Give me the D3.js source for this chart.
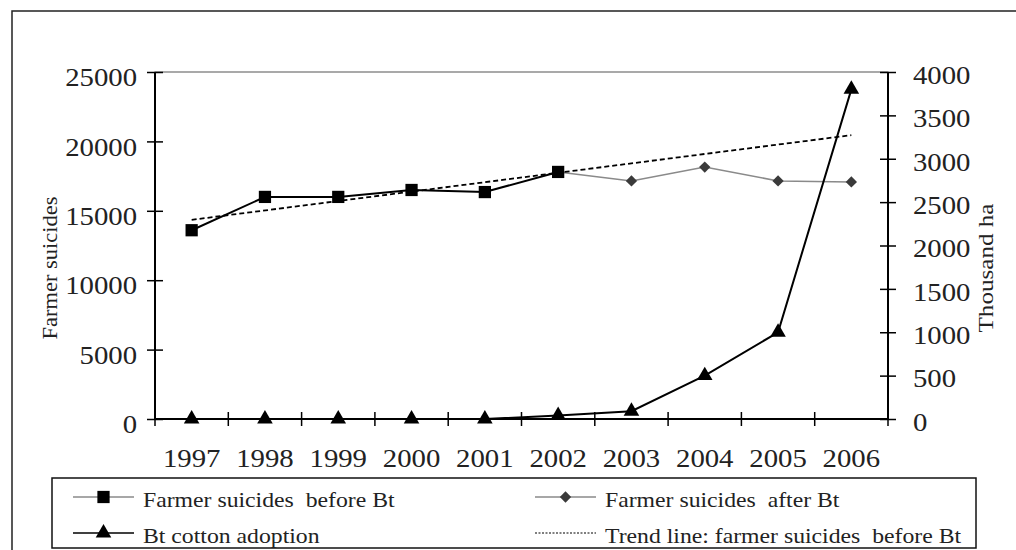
<!DOCTYPE html>
<html>
<head>
<meta charset="utf-8">
<script src="https://cdn.jsdelivr.net/npm/d3@7"></script>
<style>
  body { margin: 0; background: #fff; }
  svg { display: block; }
  text { font-family: "Liberation Serif", "Times New Roman", serif; fill: #222; }
</style>
</head>
<body>
<svg id="chart" width="1016" height="550"></svg>
<script>
// values
const years = ["1997", "1998", "1999", "2000", "2001", "2002", "2003", "2004", "2005", "2006"];
const suicidesBefore = [13600, 16000, 16000, 16500, 16350, 17800];            // 1997-2002
const suicidesAfterYears = ["2002", "2003", "2004", "2005", "2006"];
const suicidesAfter = [17800, 17150, 18150, 17150, 17080];
const btAdoption = [0, 0, 0, 0, 0, 40, 90, 500, 1000, 3800];                  // thousand ha
const trendYears = ["1997", "2006"];
const trendValues = [14350, 20450];
const leftTicks = [0, 5000, 10000, 15000, 20000, 25000];
const rightTicks = [0, 500, 1000, 1500, 2000, 2500, 3000, 3500, 4000];

const svg = d3.select("#chart");
const plotL = 155, plotR = 888, plotT = 72, plotB = 419;
const sx = 1.15; // the picture's text is a little wide

// outer frame (runs off the right and bottom of the picture)
svg.append("rect")
  .attr("x", 12).attr("y", 11)
  .attr("width", 1100).attr("height", 600)
  .attr("fill", "none").attr("stroke", "#222").attr("stroke-width", 1.5);

const x = d3.scaleBand().domain(years).range([plotL, plotR]);
const cx = d => x(d) + x.bandwidth() / 2;
const yL = d3.scaleLinear().domain([0, 25000]).range([plotB, plotT]);
const yR = d3.scaleLinear().domain([0, 4000]).range([plotB, plotT]);

// plot area frame
svg.append("rect")
  .attr("x", plotL).attr("y", plotT)
  .attr("width", plotR - plotL).attr("height", plotB - plotT)
  .attr("fill", "none").attr("stroke", "#555").attr("stroke-width", 1);

// left axis
const gL = svg.append("g")
  .attr("transform", `translate(${plotL},0)`)
  .call(d3.axisLeft(yL).tickValues(leftTicks).tickSize(8).tickFormat(d3.format("d")));
gL.selectAll(".tick line").attr("x1", -8).attr("x2", 8);
gL.selectAll(".tick text")
  .attr("x", -18 / sx).attr("dy", "0.55em")
  .attr("transform", `scale(${sx},1)`);

// right axis
const gR = svg.append("g")
  .attr("transform", `translate(${plotR},0)`)
  .call(d3.axisRight(yR).tickValues(rightTicks).tickSize(8).tickFormat(d3.format("d")));
gR.selectAll(".tick line").attr("x1", -8).attr("x2", 8);
gR.selectAll(".tick text")
  .attr("x", 25 / sx).attr("dy", "0.45em")
  .attr("transform", `scale(${sx},1)`);

// bottom axis: labels at category centres, ticks on band edges
const gB = svg.append("g")
  .attr("transform", `translate(0,${plotB})`)
  .call(d3.axisBottom(x).tickSize(0).tickPadding(0));
gB.selectAll(".tick text")
  .attr("y", 48).attr("dy", 0)
  .attr("transform", `scale(${sx},1)`);
gB.selectAll(".tick line").remove();
gB.selectAll(".edge")
  .data(years.map(d => x(d)).concat([plotR]))
  .enter().append("line")
  .attr("x1", d => d).attr("x2", d => d)
  .attr("y1", -7).attr("y2", 7)
  .attr("stroke", "#000").attr("stroke-width", 1.5);

[gL, gR, gB].forEach(g => {
  g.selectAll(".domain").attr("stroke", "#000").attr("stroke-width", 2);
  g.selectAll(".tick line").attr("stroke", "#000").attr("stroke-width", 1.5);
  g.selectAll("text").attr("font-family", "Liberation Serif").attr("font-size", 25).attr("fill", "#222");
});
gL.select(".domain").attr("d", `M0,${plotB}V${plotT}`);
gR.select(".domain").attr("d", `M0,${plotB}V${plotT}`);
gB.select(".domain").attr("d", `M${plotL},0H${plotR}`);

// axis titles
svg.append("text")
  .attr("transform", "translate(57,268) rotate(-90)")
  .attr("text-anchor", "middle").attr("font-size", 22)
  .attr("textLength", 143).attr("lengthAdjust", "spacingAndGlyphs")
  .text("Farmer suicides");
svg.append("text")
  .attr("transform", "translate(993,268) rotate(-90)")
  .attr("text-anchor", "middle").attr("font-size", 22)
  .attr("textLength", 129).attr("lengthAdjust", "spacingAndGlyphs")
  .text("Thousand ha");

const line = (xs, vs, scale) => d3.line()
  .x((d, i) => cx(xs[i]))
  .y(d => scale(d))(vs);

const square = d3.symbol().type(d3.symbolSquare).size(150);
const diamond = d3.symbol().type(d3.symbolSquare).size(64);
const triangle = d3.symbol().type(d3.symbolTriangle).size(105);

// farmer suicides after Bt
svg.append("path")
  .attr("d", line(suicidesAfterYears, suicidesAfter, yL))
  .attr("fill", "none").attr("stroke", "#8a8a8a").attr("stroke-width", 1.6);
svg.selectAll(".after")
  .data(suicidesAfter)
  .enter().append("path")
  .attr("transform", (d, i) => `translate(${cx(suicidesAfterYears[i])},${yL(d)}) rotate(45)`)
  .attr("d", diamond)
  .attr("fill", "#3a3a3a");

// farmer suicides before Bt
svg.append("path")
  .attr("d", line(years, suicidesBefore, yL))
  .attr("fill", "none").attr("stroke", "#000").attr("stroke-width", 2);
svg.selectAll(".before")
  .data(suicidesBefore)
  .enter().append("path")
  .attr("transform", (d, i) => `translate(${cx(years[i])},${yL(d)})`)
  .attr("d", square)
  .attr("fill", "#000");

// trend line
svg.append("path")
  .attr("d", line(trendYears, trendValues, yL))
  .attr("fill", "none").attr("stroke", "#000").attr("stroke-width", 1.8)
  .attr("stroke-dasharray", "5,3");

// Bt cotton adoption
svg.append("path")
  .attr("d", line(years, btAdoption, yR))
  .attr("fill", "none").attr("stroke", "#000").attr("stroke-width", 2);
svg.selectAll(".bt")
  .data(btAdoption)
  .enter().append("path")
  .attr("transform", (d, i) => `translate(${cx(years[i])},${yR(d)})`)
  .attr("d", triangle)
  .attr("fill", "#000");

// legend
const legend = svg.append("g");
legend.append("rect")
  .attr("x", 52).attr("y", 478).attr("width", 924).attr("height", 70)
  .attr("fill", "#fff").attr("stroke", "#111").attr("stroke-width", 1.5);

const legendItems = [
  { label: "Farmer suicides  before Bt", x: 73, y: 497, stroke: "#8a8a8a", dash: null, sym: square, fill: "#000", rot: 0 },
  { label: "Farmer suicides  after Bt", x: 535, y: 497, stroke: "#8a8a8a", dash: null, sym: diamond, fill: "#3a3a3a", rot: 45 },
  { label: "Bt cotton adoption", x: 73, y: 533, stroke: "#000", dash: null, sym: triangle, fill: "#000", rot: 0 },
  { label: "Trend line: farmer suicides  before Bt", x: 535, y: 533, stroke: "#000", dash: "2,1.5", sym: null }
];
const li = legend.selectAll(".item")
  .data(legendItems)
  .enter().append("g")
  .attr("transform", d => `translate(${d.x},${d.y})`);
li.append("line")
  .attr("x1", 0).attr("x2", 61)
  .attr("stroke", d => d.stroke).attr("stroke-width", d => d.dash ? 1.2 : 1.6)
  .attr("stroke-dasharray", d => d.dash);
li.filter(d => d.sym)
  .append("path")
  .attr("transform", d => `translate(30.5,0) rotate(${d.rot})`)
  .attr("d", d => d.sym())
  .attr("fill", d => d.fill);
li.append("text")
  .attr("transform", `translate(70,10) scale(1.13,1)`)
  .attr("font-size", 21)
  .style("white-space", "pre")
  .text(d => d.label);
</script>
</body>
</html>
